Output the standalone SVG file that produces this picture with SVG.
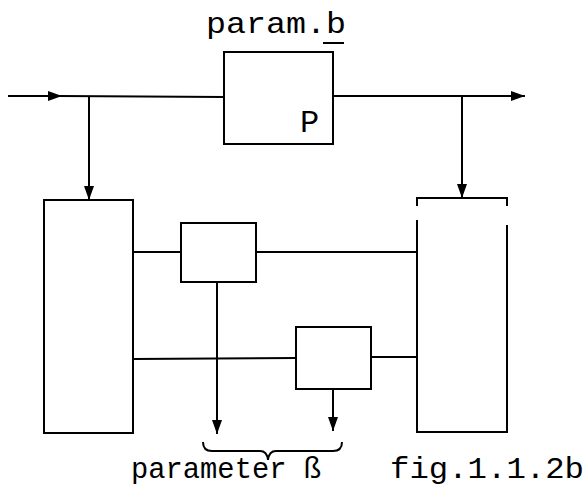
<svg xmlns="http://www.w3.org/2000/svg" width="586" height="487" viewBox="0 0 586 487">
  <style>
    .box { fill: none; stroke: #000; stroke-width: 2; stroke-linejoin: miter; }
    .wire { fill: none; stroke: #000; stroke-width: 2; }
    .txt { font-family: "Liberation Mono", "Courier New", monospace; fill: #000; }
  </style>
  <defs>
    <marker id="head" viewBox="0 0 14 10" refX="14" refY="5" markerWidth="14" markerHeight="10" markerUnits="userSpaceOnUse" orient="auto">
      <path d="M0,0 L14,5 L0,10 Z" fill="#000"/>
    </marker>
  </defs>
  <rect width="586" height="487" fill="#fff"/>

  <!-- process block P with its parameter label -->
  <g id="process-p">
    <rect class="box" x="224" y="52" width="109" height="92"/>
    <text class="txt" x="206" y="33" font-size="30" textLength="140" lengthAdjust="spacingAndGlyphs">param.b</text>
    <line class="wire" x1="323" y1="43" x2="344" y2="43"/>
    <text class="txt" x="300" y="132" font-size="32">P</text>
  </g>

  <!-- left tall block -->
  <g id="left-block">
    <rect class="box" x="44" y="200" width="89" height="233"/>
  </g>

  <!-- right tall block (sides open near the top) -->
  <g id="right-block">
    <path class="box" d="M417,206 V198 H507 V206"/>
    <path class="box" d="M417,220 V432 H507 V225"/>
  </g>

  <!-- upper small block -->
  <g id="small-block-1">
    <rect class="box" x="181" y="223" width="75" height="59"/>
  </g>

  <!-- lower small block -->
  <g id="small-block-2">
    <rect class="box" x="296" y="327" width="75" height="62"/>
  </g>

  <!-- connectors -->
  <g id="connectors">
    <line class="wire" x1="8" y1="96" x2="62" y2="96" marker-end="url(#head)"/>
    <line class="wire" x1="60" y1="96" x2="224" y2="97"/>
    <line class="wire" x1="89" y1="96" x2="89" y2="200" marker-end="url(#head)"/>
    <line class="wire" x1="333" y1="96" x2="525" y2="96" marker-end="url(#head)"/>
    <line class="wire" x1="462" y1="96" x2="462" y2="198" marker-end="url(#head)"/>
    <line class="wire" x1="133" y1="252" x2="181" y2="252"/>
    <line class="wire" x1="256" y1="252" x2="417" y2="252"/>
    <line class="wire" x1="133" y1="359" x2="296" y2="358"/>
    <line class="wire" x1="371" y1="357" x2="417" y2="357"/>
    <line class="wire" x1="217" y1="282" x2="217" y2="434" marker-end="url(#head)"/>
    <line class="wire" x1="333" y1="389" x2="333" y2="431" marker-end="url(#head)"/>
    <path class="wire" d="M203,442 Q203,451 212,451 H260 Q267,451 268,460 Q269,451 276,451 H333 Q342,451 342,442"/>
  </g>

  <!-- captions -->
  <g id="captions">
    <text class="txt" x="131" y="478" font-size="29" textLength="190" lengthAdjust="spacingAndGlyphs">parameter ß</text>
    <text class="txt" x="390" y="478" font-size="29" textLength="194" lengthAdjust="spacingAndGlyphs">fig.1.1.2b</text>
  </g>
</svg>
